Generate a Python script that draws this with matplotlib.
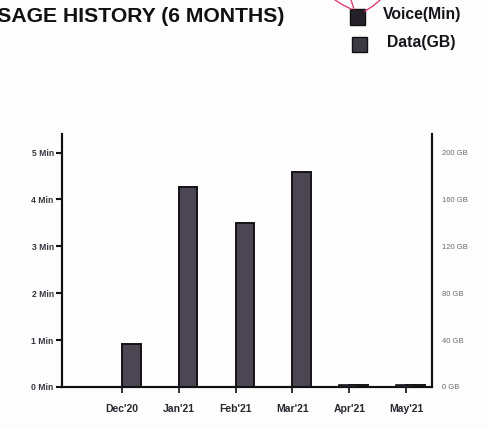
import matplotlib
matplotlib.use('Agg')
import matplotlib.pyplot as plt
import numpy as np

plt.rcParams['font.family'] = ['Liberation Sans', 'DejaVu Sans']

months = ["Dec'20", "Jan'21", "Feb'21", "Mar'21", "Apr'21", "May'21"]
voice_min = [0.92, 4.27, 3.5, 4.58, 0.04, 0.04]
data_gb = [0, 0, 0, 0, 2, 2]

min_ticks = [0, 1, 2, 3, 4, 5]
gb_ticks = [0, 40, 80, 120, 160, 200]

fig = plt.figure(figsize=(4.88, 4.29), dpi=100)
fig.patch.set_facecolor('#fdfdfd')

ax = fig.add_axes([0.127, 0.098, 0.758, 0.59])
ax.set_facecolor('none')
ax2 = ax.twinx()

x = np.arange(len(months))
w = 0.33
ax.bar(x + w / 2, voice_min, w, color='#4b4652', edgecolor='#151218', linewidth=1.4, zorder=3)
ax2.bar(x - w / 2 + 0.15, data_gb, w, color='#55505c', edgecolor='#151218', linewidth=1.2, zorder=3)

ax.set_xlim(-1.05, 5.45)
ax.set_ylim(0, 5.4)
ax2.set_ylim(0, 216)

ax.set_xticks(x)
ax.set_xticklabels(months, fontsize=7.5, fontweight='bold', color='#2a2630')
ax.set_yticks(min_ticks)
ax.set_yticklabels([f'{v} Min' for v in min_ticks], fontsize=6.2, fontweight='bold', color='#3a3640')
ax2.set_yticks(gb_ticks)
ax2.set_yticklabels([f'{v} GB' for v in gb_ticks], fontsize=5.5, color='#6a6670')

ax.tick_params(axis='y', length=4, width=1.5, pad=2, color='#111111')
ax.tick_params(axis='x', length=4, width=1.2, pad=8, color='#111111')
ax2.tick_params(axis='y', length=0, pad=7)

for a in (ax, ax2):
    a.spines['top'].set_visible(False)
    for s in ('left', 'right', 'bottom'):
        a.spines[s].set_linewidth(1.5)
        a.spines[s].set_color('#111111')

# heading, partly cut off at the left edge
fig.text(284 / 488, 1 - 17 / 429, 'USAGE HISTORY (6 MONTHS)', ha='right', va='center',
         fontsize=15.2, fontweight='bold', color='#111111')

# legend
fig.patches.append(plt.Rectangle((350 / 488, 1 - 25 / 429), 15 / 488, 16 / 429,
                                 transform=fig.transFigure, facecolor='#24212b',
                                 edgecolor='#111111', linewidth=1))
fig.patches.append(plt.Rectangle((352 / 488, 1 - 52 / 429), 15 / 488, 15 / 429,
                                 transform=fig.transFigure, facecolor='#3c3944',
                                 edgecolor='#111111', linewidth=1))
fig.text(383 / 488, 1 - 14 / 429, 'Voice(Min)', ha='left', va='center',
         fontsize=11.3, fontweight='bold', color='#151218')
fig.text(387 / 488, 1 - 43 / 429, 'Data(GB)', ha='left', va='center',
         fontsize=11.3, fontweight='bold', color='#151218')

# pink connector lines near the legend
pink = '#e0407a'
fig.lines.append(plt.Line2D([335 / 488, 343 / 488, 351 / 488], [1.0, 1 - 5 / 429, 1 - 9 / 429],
                            transform=fig.transFigure, color=pink, linewidth=1))
fig.lines.append(plt.Line2D([351 / 488, 354 / 488], [1.0, 1 - 9 / 429],
                            transform=fig.transFigure, color=pink, linewidth=1))
fig.lines.append(plt.Line2D([365 / 488, 373 / 488, 380 / 488], [1 - 11 / 429, 1 - 6 / 429, 1.0],
                            transform=fig.transFigure, color=pink, linewidth=1))

fig.savefig('out.png', dpi=100, facecolor=fig.get_facecolor())
